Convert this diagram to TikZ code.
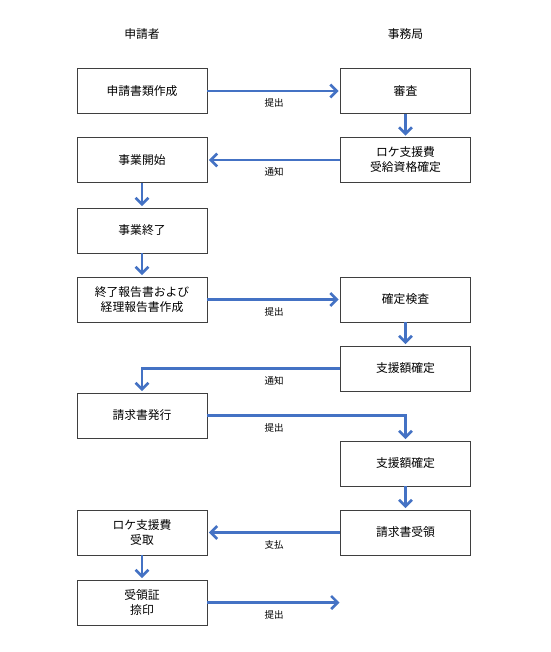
\documentclass[tikz,border=0pt]{standalone}
\usepackage{fontspec}
\setmainfont{Noto Sans CJK JP}
\usetikzlibrary{arrows.meta}
\definecolor{flowblue}{HTML}{4472C4}
\definecolor{boxgray}{HTML}{3F3F3F}
\begin{document}
\begin{tikzpicture}[x=1pt,y=-1pt,
  box/.style={draw=boxgray,line width=0.8pt,minimum width=130pt,minimum height=45pt,
    align=center,inner sep=2pt,font=\fontsize{11.8}{15}\selectfont},
  flow/.style={draw=flowblue,line width=2.6pt,shorten >=1.5pt,
    -{Straight Barb[length=6.5pt,width=13pt]}},
  note/.style={font=\fontsize{9.5}{11}\selectfont}]
  \useasboundingbox (0,0) rectangle (550,652);

  % lanes
  \node[font=\fontsize{11.8}{13}\selectfont] (applicant) at (142,34) {申請者};
  \node[font=\fontsize{11.8}{13}\selectfont] (office) at (405.5,34) {事務局};

  % applicant side
  \node[box] (apply) at (142,91) {申請書類作成};
  \node[box] (start) at (142,160) {事業開始};
  \node[box] (finish) at (142,230.5) {事業終了};
  \node[box] (report) at (142,299.5) {終了報告書および\\経理報告書作成};
  \node[box] (invoice) at (142,415.5) {請求書発行};
  \node[box] (receive) at (142,532.5) {ロケ支援費\\受取};
  \node[box] (seal) at (142,602.5) {受領証\\捺印};

  % office side
  \node[box] (review) at (405.5,91) {審査};
  \node[box] (eligible) at (405.5,160) {ロケ支援費\\受給資格確定};
  \node[box] (inspect) at (405.5,299.5) {確定検査};
  \node[box] (amount) at (405.5,368.5) {支援額確定};
  \node[box] (amountb) at (405.5,463.5) {支援額確定};
  \node[box] (accept) at (405.5,532.5) {請求書受領};
  \coordinate (submit) at (341,602.5);

  % flows
  \draw[flow] (apply) -- (review);
  \draw[flow] (review) -- (eligible);
  \draw[flow] (eligible) -- (start);
  \draw[flow] (start) -- (finish);
  \draw[flow] (finish) -- (report);
  \draw[flow] (report) -- (inspect);
  \draw[flow] (inspect) -- (amount);
  \draw[flow] (amount.west) -| (invoice.north);
  \draw[flow] (invoice.east) -| (amountb.north);
  \draw[flow] (amountb) -- (accept);
  \draw[flow] (accept) -- (receive);
  \draw[flow] (receive) -- (seal);
  \draw[flow] (seal.east) -- (submit);

  \node[note] (n1) at (274,103) {提出};
  \node[note] (n2) at (274,172) {通知};
  \node[note] (n3) at (274,311.5) {提出};
  \node[note] (n4) at (274,381) {通知};
  \node[note] (n5) at (274,428) {提出};
  \node[note] (n6) at (274,545) {支払};
  \node[note] (n7) at (274,615) {提出};

\end{tikzpicture}
\end{document}
